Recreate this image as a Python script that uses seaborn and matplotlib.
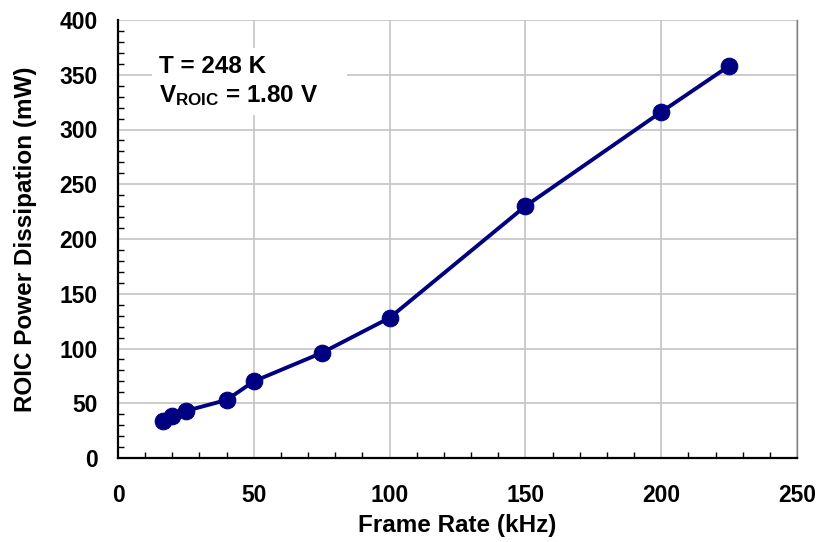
import matplotlib
matplotlib.use("Agg")
import matplotlib.pyplot as plt
import seaborn as sns
import pandas as pd
from matplotlib.ticker import MultipleLocator

frame_rate_khz = [16.5, 20, 25, 40, 50, 75, 100, 150, 200, 225]
power_mw = [34, 38, 43, 53, 70, 96, 128, 230, 316, 358]

df = pd.DataFrame({"x": frame_rate_khz, "y": power_mw})

sns.set_style("white")
plt.rcParams["font.family"] = ["Liberation Sans", "DejaVu Sans"]
plt.rcParams["font.weight"] = "bold"
plt.rcParams["text.color"] = "black"
plt.rcParams["axes.labelcolor"] = "black"
plt.rcParams["xtick.color"] = "black"
plt.rcParams["ytick.color"] = "black"
plt.rcParams["mathtext.fontset"] = "custom"
plt.rcParams["mathtext.rm"] = "Liberation Sans:bold"
plt.rcParams["mathtext.bf"] = "Liberation Sans:bold"
plt.rcParams["mathtext.it"] = "Liberation Sans:bold"

fig = plt.figure(figsize=(8.22, 5.42), dpi=100)
ax = fig.add_axes([118/822, 1 - 458/542, (797-118)/822, (458-20)/542])

sns.lineplot(data=df, x="x", y="y", ax=ax, color="#000080", linewidth=2.8,
             marker="o", markersize=12, markeredgecolor="#000080", zorder=3)

ax.set_xlim(0, 250)
ax.set_ylim(0, 400)
ax.xaxis.set_major_locator(MultipleLocator(50))
ax.xaxis.set_minor_locator(MultipleLocator(10))
ax.yaxis.set_major_locator(MultipleLocator(50))
ax.yaxis.set_minor_locator(MultipleLocator(10))
ax.grid(True, which="major", color="#c4c4c4", linewidth=1.2)
ax.set_axisbelow(True)

ax.tick_params(axis="x", which="major", direction="inout", length=11.5, width=1.2,
               labelsize=16.5, pad=13, colors="black")
ax.tick_params(axis="x", which="minor", direction="in", length=4.5, width=1.0, bottom=True)
ax.tick_params(axis="y", which="major", direction="inout", length=11.5, width=1.2,
               labelsize=16.5, pad=9, colors="black")
ax.tick_params(axis="y", which="minor", direction="in", length=4.5, width=1.0, left=True)
for lab in ax.get_xticklabels() + ax.get_yticklabels():
    lab.set_fontweight("bold")
    lab.set_color("black")

for side in ["left", "bottom"]:
    ax.spines[side].set_color("black")
    ax.spines[side].set_linewidth(1.6)
ax.spines["right"].set_color("#808080")
ax.spines["right"].set_linewidth(1.0)
ax.spines["top"].set_visible(False)

ax.set_xlabel("Frame Rate (kHz)", fontsize=17.5, fontweight="bold", labelpad=5, color="black")
ax.set_ylabel("ROIC Power Dissipation (mW)", fontsize=17.5, fontweight="bold", labelpad=16, color="black")

ax.text(15, 344, "T = 248 K           \nV$_{\\mathrm{ROIC}}$ = 1.80 V", fontsize=17.5, fontweight="bold",
        va="center", ha="left", linespacing=1.3, color="black",
        bbox=dict(facecolor="white", edgecolor="none", pad=5), zorder=4)

fig.savefig("out.png", dpi=100)
